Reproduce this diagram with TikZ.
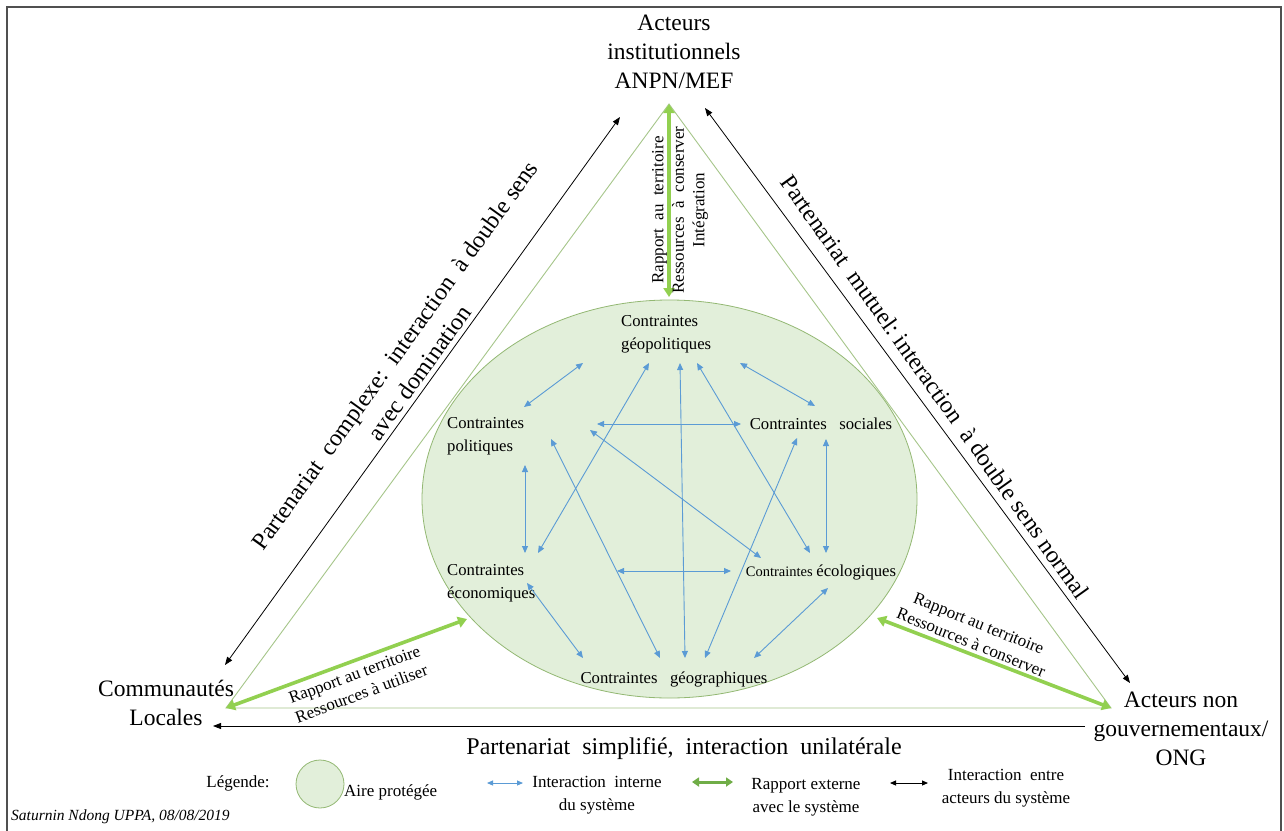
\documentclass[tikz,border=0pt]{standalone}
\usepackage{fontspec}
\setmainfont{Liberation Serif}
\newfontfamily\tnr{Liberation Serif}
\usetikzlibrary{arrows.meta,shapes.geometric}
\definecolor{ellfill}{HTML}{E2EFDA}
\definecolor{elldraw}{HTML}{93B873}
\definecolor{trig}{HTML}{A6C68A}
\definecolor{garrow}{HTML}{92D050}
\definecolor{garrowleg}{HTML}{70AD47}
\definecolor{barrow}{HTML}{5B9BD5}
\definecolor{framecol}{HTML}{505050}
\tikzset{
  big/.style={font=\tnr\fontsize{23.5}{29}\selectfont, align=center, inner sep=0pt},
  sidelbl/.style={font=\tnr\fontsize{24}{30}\selectfont, align=center, inner sep=0pt},
  cstr/.style={font=\tnr\fontsize{16.7}{23}\selectfont, align=left, inner sep=0pt},
  extlbl/.style={font=\tnr\fontsize{17}{20.5}\selectfont, align=center, inner sep=0pt},
  leglbl/.style={font=\tnr\fontsize{17}{23}\selectfont, align=center, inner sep=0pt},
  internal/.style={draw=barrow, line width=0.9pt, {Triangle[length=7pt,width=6pt]}-{Triangle[length=7pt,width=6pt]}},
  external/.style={draw=garrow, line width=3.6pt, {Triangle[length=9pt,width=11pt]}-{Triangle[length=9pt,width=11pt]}},
  actors/.style={draw=black, line width=0.8pt, {Triangle[length=8pt,width=6pt]}-{Triangle[length=8pt,width=6pt]}},
  oneway/.style={draw=black, line width=0.8pt, -{Triangle[length=8pt,width=6pt]}},
}
\begin{document}
\begin{tikzpicture}[x=1pt,y=-1pt]
\useasboundingbox (0,0) rectangle (1284,830);
\fill[white] (0,0) rectangle (1284,830);
% frame
\draw[framecol, line width=1.2pt] (7,840) -- (7,7) -- (1281,7) -- (1281,840);

% protected area
\node[ellipse, draw=elldraw, fill=ellfill, line width=0.8pt, minimum width=495pt, minimum height=398pt, inner sep=0pt] (ap) at (669.5,499) {};

% triangle
\coordinate (T) at (669,104);
\coordinate (L) at (226,708);
\coordinate (R) at (1111,708);
\draw[trig, line width=0.9pt] (T) -- (L) -- (R) -- cycle;

% actor labels
\node[big] (inst) at (674,52) {Acteurs\\institutionnels\\ANPN/MEF};
\node[big] (comm) at (166,703) {Communautés\\Locales};
\node[big] (ong) at (1181,729) {Acteurs non\\gouvernementaux/\\ONG};

% external green arrows
\coordinate (eTop) at (669,297);
\coordinate (eLeft) at (467,619);
\coordinate (eRight) at (877,618);
\draw[external] (T) -- (eTop);
\draw[external] (L) -- (eLeft);
\draw[external] (R) -- (eRight);

\node[extlbl, rotate=90] (vtxt) at (680,210) {Rapport\ \ au\ \ territoire\\Ressources\ \ à\ \ conserver\\Intégration};
\node[extlbl, rotate=20.3] (ltxt) at (358,684) {Rapport au territoire\\Ressources à utiliser};
\node[extlbl, rotate=-22] (rtxt) at (975,633) {Rapport au territoire\\Ressources à conserver};

% black arrows between actors
\coordinate (bl1) at (225,665);
\coordinate (bl2) at (620,117);
\coordinate (br1) at (705,108);
\coordinate (br2) at (1130,683);
\coordinate (bb1) at (1085,726);
\coordinate (bb2) at (213,726);
\draw[actors] (bl1) -- (bl2);
\draw[actors] (br1) -- (br2);
\draw[oneway] (bb1) -- (bb2);

\node[sidelbl, rotate=54.3] (lpart) at (407,364) {Partenariat\ \ complexe:\ \ interaction\ \ à\ double\ sens\\avec domination};
\node[sidelbl, rotate=-54.5] (rpart) at (935,387) {Partenariat\ \ mutuel:\ interaction\ \ à\ double\ sens\ normal};
\node[sidelbl] (bpart) at (684,749) {Partenariat\ \ simplifié,\ \ interaction\ \ unilatérale};

% constraints
\node[cstr, anchor=west] (geopol) at (621,334) {Contraintes\\géopolitiques};
\node[cstr, anchor=west] (pol) at (447,436) {Contraintes\\politiques};
\node[cstr, anchor=center] (soc) at (821,424) {Contraintes\ \ \ sociales};
\node[cstr, anchor=west] (eco) at (447,583) {Contraintes\\économiques};
\node[inner sep=0pt, anchor=center, font=\tnr] (ecol) at (821,572) {\fontsize{14.5}{18}\selectfont Contraintes \fontsize{16.7}{20}\selectfont écologiques};
\node[cstr, anchor=center] (geog) at (674,679) {Contraintes\ \ \ géographiques};

% internal interactions
\coordinate (a1) at (583,363); \coordinate (b1) at (524,407);
\coordinate (a2) at (740,363); \coordinate (b2) at (815,406);
\coordinate (a3) at (597,424); \coordinate (b3) at (741,424);
\coordinate (a4) at (525,465); \coordinate (b4) at (525,553);
\coordinate (a5) at (826,439); \coordinate (b5) at (826,553);
\coordinate (a6) at (617,571); \coordinate (b6) at (731,571);
\coordinate (a7) at (527,583); \coordinate (b7) at (583,658);
\coordinate (a8) at (828,588); \coordinate (b8) at (754,658);
\coordinate (a9) at (649,363); \coordinate (b9) at (538,553);
\coordinate (a10) at (680,363); \coordinate (b10) at (685,658);
\coordinate (a11) at (697,363); \coordinate (b11) at (810,553);
\coordinate (a12) at (551,439); \coordinate (b12) at (660,658);
\coordinate (a13) at (590,430); \coordinate (b13) at (761,558);
\coordinate (a14) at (797,438); \coordinate (b14) at (705,658);
\foreach \i in {1,...,14} { \draw[internal] (a\i) -- (b\i); }

% legend
\node[leglbl] (leg) at (238,783) {Légende:};
\node[circle, draw=elldraw, fill=ellfill, line width=0.8pt, minimum size=48pt, inner sep=0pt] (legc) at (320,784) {};
\node[leglbl, anchor=west] (legct) at (344,792) {Aire protégée};
\coordinate (lb1) at (487,783); \coordinate (lb2) at (523,783);
\draw[draw=barrow, line width=0.9pt, {Triangle[length=6pt,width=5pt]}-{Triangle[length=6pt,width=5pt]}] (lb1) -- (lb2);
\node[leglbl] (legbt) at (597,795) {Interaction\ \ interne\\du système};
\coordinate (lg1) at (692,782); \coordinate (lg2) at (733,782);
\draw[draw=garrowleg, line width=3pt, {Triangle[length=7pt,width=9pt]}-{Triangle[length=7pt,width=9pt]}] (lg1) -- (lg2);
\node[leglbl] (leggt) at (806,797) {Rapport externe\\avec le système};
\coordinate (lk1) at (890,783); \coordinate (lk2) at (928,783);
\draw[draw=black, line width=0.9pt, {Triangle[length=6pt,width=5pt]}-{Triangle[length=6pt,width=5pt]}] (lk1) -- (lk2);
\node[leglbl] (legkt) at (1006,788) {Interaction\ \ entre\\acteurs du système};

\node[font=\tnr\fontsize{15.5}{18}\selectfont\itshape, anchor=west, inner sep=0pt] (auth) at (11,817) {Saturnin Ndong UPPA, 08/08/2019};
\end{tikzpicture}
\end{document}
